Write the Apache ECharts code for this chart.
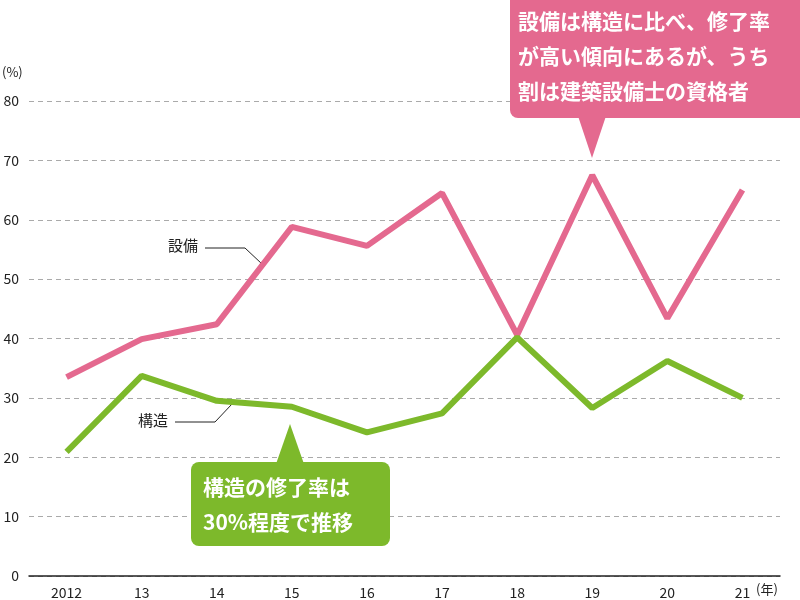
<!DOCTYPE html>
<html><head><meta charset="utf-8">
<script src="https://cdn.jsdelivr.net/npm/echarts@6/dist/echarts.min.js"></script>
<style>html,body{margin:0;padding:0;background:#fff}#c{width:800px;height:600px}</style>
</head><body><div id="c"></div>
<script>
const years = ['2012','13','14','15','16','17','18','19','20','21'];
const setsubi = [33.5,39.9,42.4,58.8,55.6,64.5,40.6,67.5,43.4,65.0];
const kouzou = [20.9,33.7,29.5,28.5,24.2,27.4,40.2,28.3,36.2,30.0];
const yTicks = [0,10,20,30,40,50,60,70,80];
const PINK='#e4698f', GREEN='#7db92b';
const F='"Noto Sans CJK JP", sans-serif';
const chart = echarts.init(document.getElementById('c'));
chart.setOption({
  animation:false,
  textStyle:{fontFamily:F},
  grid:{left:29,right:20,top:101,bottom:24},
  xAxis:{type:'category',data:years,boundaryGap:true,
    axisLine:{lineStyle:{color:'#222',width:1.5}},axisTick:{show:false},
    axisLabel:{color:'#222',fontSize:14,margin:10,fontFamily:F}},
  yAxis:{type:'value',min:0,max:80,interval:10,
    axisLine:{show:false},axisTick:{show:false},
    axisLabel:{color:'#222',fontSize:14,margin:10,fontFamily:F},
    splitLine:{lineStyle:{color:'#aaa',type:[5,4]}}},
  series:[
    {type:'line',data:setsubi,symbol:'none',lineStyle:{color:PINK,width:6},z:3},
    {type:'line',data:kouzou,symbol:'none',lineStyle:{color:GREEN,width:6},z:4}
  ],
  graphic:[
    {type:'text',left:2,top:66,style:{text:'(%)',fontSize:13,fill:'#222',fontFamily:F}},
    {type:'text',left:756,top:583,style:{text:'(年)',fontSize:13,fill:'#222',fontFamily:F}},
    {type:'text',left:168,top:238,style:{text:'設備',fontSize:15,fill:'#222',fontFamily:F}},
    {type:'polyline',shape:{points:[[205,248],[245,248],[262,264]]},style:{stroke:'#222',lineWidth:1,fill:null}},
    {type:'text',left:138,top:413,style:{text:'構造',fontSize:15,fill:'#222',fontFamily:F}},
    {type:'polyline',shape:{points:[[175,422],[215,422],[232,404]]},style:{stroke:'#222',lineWidth:1,fill:null}},
    {type:'rect',shape:{x:510,y:-10,width:310,height:128,r:8},style:{fill:PINK},z:10},
    {type:'polygon',shape:{points:[[578,116],[606,116],[592,158]]},style:{fill:PINK},z:10},
    {type:'text',left:518,top:4,z:11,style:{text:'設備は構造に比べ、修了率\nが高い傾向にあるが、うち\n割は建築設備士の資格者',fontSize:21,fontWeight:'bold',lineHeight:35,fill:'#fff',fontFamily:F}},
    {type:'rect',shape:{x:191,y:462,width:199,height:84,r:8},style:{fill:GREEN},z:10},
    {type:'polygon',shape:{points:[[276,464],[304,464],[290,424]]},style:{fill:GREEN},z:10},
    {type:'text',left:203,top:470,z:11,style:{text:'構造の修了率は\n30%程度で推移',fontSize:21,fontWeight:'bold',lineHeight:35,fill:'#fff',fontFamily:F}}
  ]
});
</script></body></html>
